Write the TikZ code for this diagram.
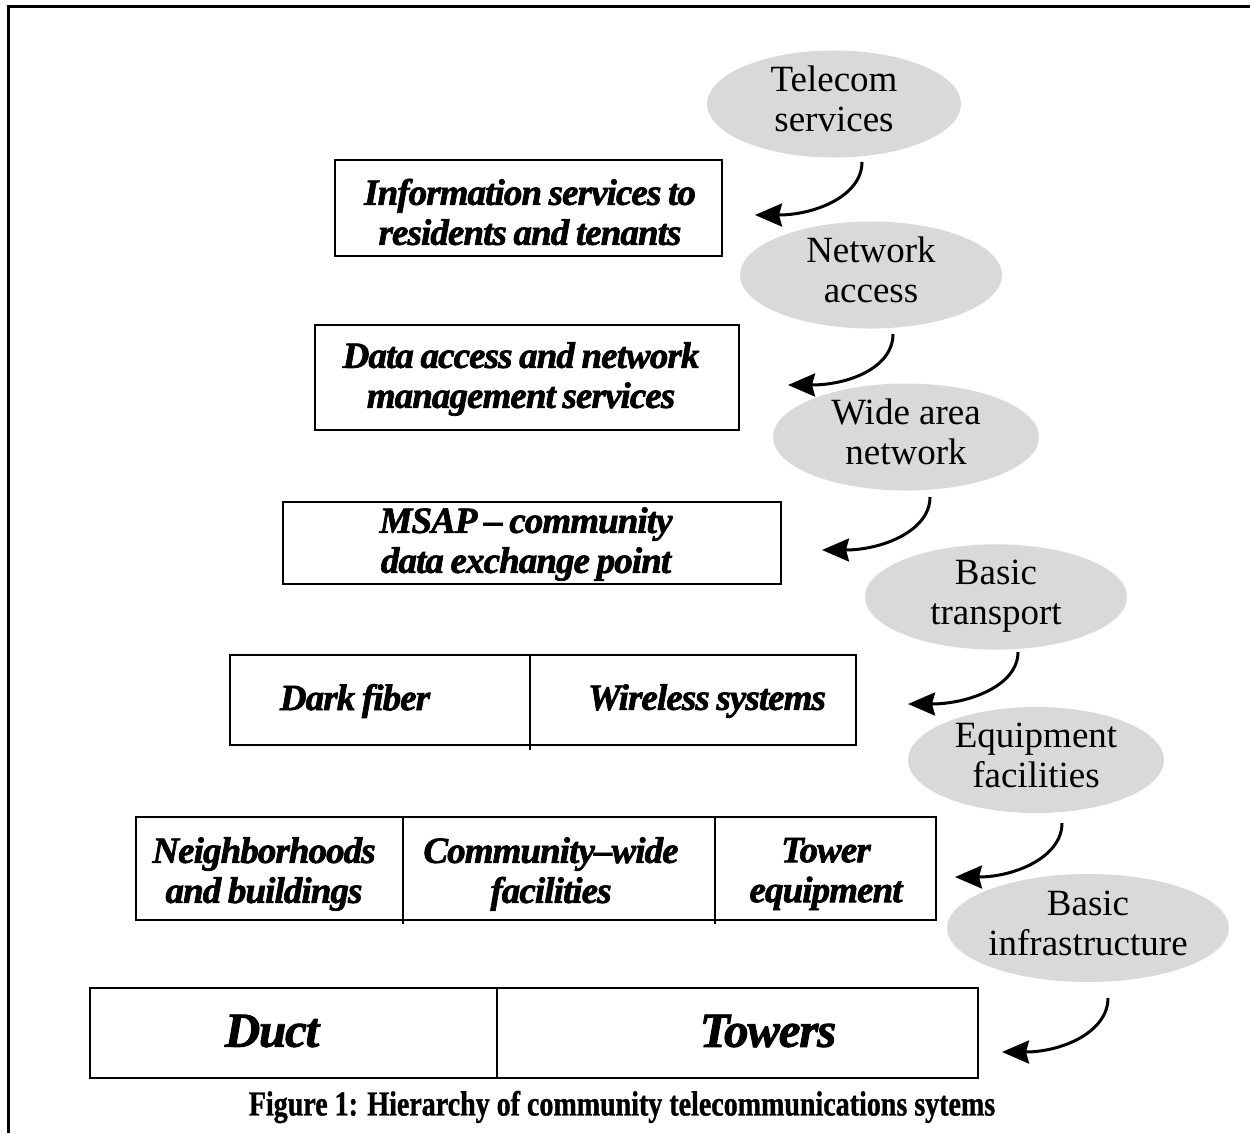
\documentclass[tikz,border=0pt]{standalone}
\usepackage{fontspec}
\setmainfont{Liberation Serif}
\newfontfamily\capfont[FakeStretch=0.80,FakeBold=1]{Liberation Serif}
\newfontfamily\layerfont[FakeBold=1.8,LetterSpace=-2.5,WordSpace=0.8]{Liberation Serif}
\usetikzlibrary{shapes.geometric,arrows.meta}
\definecolor{bubblegray}{RGB}{217,217,217}
\begin{document}
\begin{tikzpicture}[x=1pt,y=-1pt,
  layerbox/.style={draw=black,line width=2.6pt},
  bubble/.style={ellipse,fill=bubblegray,inner sep=0pt,align=center,text depth=10pt,
    font=\fontsize{37}{40}\selectfont},
  tag/.style={align=center,inner sep=0pt,
    font=\layerfont\fontsize{37}{40}\selectfont\bfseries\itshape},
  bigtag/.style={inner sep=0pt,font=\layerfont\fontsize{49}{52}\selectfont\bfseries\itshape},
  flow/.style={line width=3pt,-{Stealth[length=27pt,width=23pt,inset=3pt]}}
]
\useasboundingbox (0,0) rectangle (1250,1133);

% outer frame (left and top edges)
\draw[line width=3pt] (8.5,1133) -- (8.5,6.5) -- (1250,6.5);

% service layers, top to bottom
\draw[layerbox] (335,160) rectangle (722,256);
\node[tag] (info) at (530,212) {Information services to\\residents and tenants};

\draw[layerbox] (315,325) rectangle (739,430);
\node[tag] (data) at (521,379) {Data access and network\\management services};

\draw[layerbox] (283,502) rectangle (781,584);
\node[tag] (msap) at (526,544) {MSAP – community\\data exchange point};

\draw[layerbox] (230,655) rectangle (856,745);
\draw[layerbox] (530,655) -- (530,750);
\node[tag] (dark) at (355,701) {Dark fiber};
\node[tag] (wireless) at (707,701) {Wireless systems};

\draw[layerbox] (136,817) rectangle (936,920);
\draw[layerbox] (403,817) -- (403,924);
\draw[layerbox] (715,817) -- (715,924);
\node[tag] (hoods) at (264,874) {Neighborhoods\\and buildings};
\node[tag] (wide) at (551,874) {Community–wide\\facilities};
\node[tag] (towereq) at (826,874) {Tower\\equipment};

\draw[layerbox] (90,988) rectangle (978,1078);
\draw[layerbox] (497,988) -- (497,1078);
\node[bigtag] (duct) at (272,1031) {Duct};
\node[bigtag] (towers) at (768,1031) {Towers};

% layer names
\node[bubble,minimum width=254pt,minimum height=104pt] (e1) at (834,104) {Telecom\\services};
\node[bubble,minimum width=262pt,minimum height=104pt] (e2) at (871,275) {Network\\access};
\node[bubble,minimum width=266pt,minimum height=106pt] (e3) at (906,437) {Wide area\\network};
\node[bubble,minimum width=262pt,minimum height=104pt] (e4) at (996,597) {Basic\\transport};
\node[bubble,minimum width=256pt,minimum height=106pt] (e5) at (1036,760) {Equipment\\facilities};
\node[bubble,minimum width=260pt,minimum height=108pt] (e6) at (1088,928) {Basic\\infrastructure};

% arrow ends
\coordinate (s1) at (862,162);  \coordinate (t1) at (755,215);
\coordinate (s2) at (893,334);  \coordinate (t2) at (788,385);
\coordinate (s3) at (930,497);  \coordinate (t3) at (822,550);
\coordinate (s4) at (1018,652); \coordinate (t4) at (908,704);
\coordinate (s5) at (1062,823); \coordinate (t5) at (955,877);
\coordinate (s6) at (1108,998); \coordinate (t6) at (1002,1052);

\foreach \i in {1,...,6}
  \draw[flow] (s\i) .. controls +(0,34) and +(60,0) .. (t\i);

% caption
\node[inner sep=0pt,font=\capfont\bfseries\fontsize{35}{38}\selectfont] (caption) at (622,1107)
  {Figure 1: Hierarchy of community telecommunications sytems};
\end{tikzpicture}
\end{document}
